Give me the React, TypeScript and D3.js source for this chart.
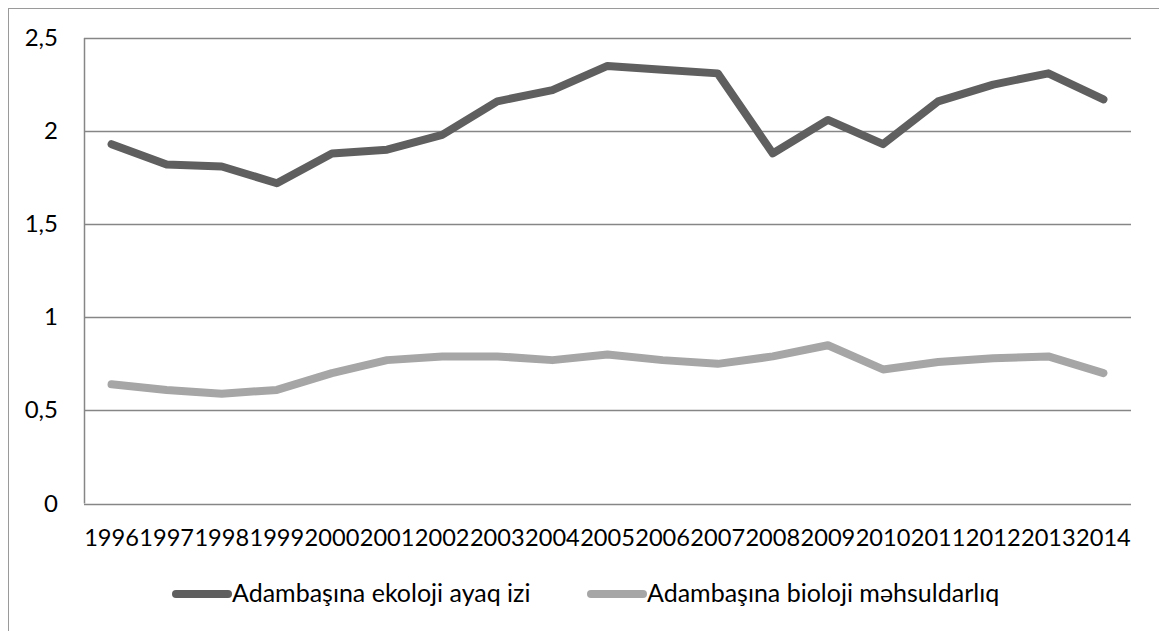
import React, { useEffect, useRef } from 'react';
import * as d3 from 'd3';

const years = ['1996', '1997', '1998', '1999', '2000', '2001', '2002', '2003', '2004', '2005',
  '2006', '2007', '2008', '2009', '2010', '2011', '2012', '2013', '2014'];
const ecoFootprint = [1.93, 1.82, 1.81, 1.72, 1.88, 1.90, 1.98, 2.16, 2.22, 2.35,
  2.33, 2.31, 1.88, 2.06, 1.93, 2.16, 2.25, 2.31, 2.17];
const bioCapacity = [0.64, 0.61, 0.59, 0.61, 0.70, 0.77, 0.79, 0.79, 0.77, 0.80,
  0.77, 0.75, 0.79, 0.85, 0.72, 0.76, 0.78, 0.79, 0.70];
const yTicks = [0, 0.5, 1, 1.5, 2, 2.5];
const seriesNames = ['Adambaşına ekoloji ayaq izi', 'Adambaşına bioloji məhsuldarlıq'];

const W = 1159, H = 631;
const FONT = 'Lato, Calibri, sans-serif';

function App() {
  const ref = useRef<SVGSVGElement>(null);

  useEffect(() => {
    const svg = d3.select(ref.current);
    svg.selectAll('*').remove();

    const margin = { top: 38, right: 28, bottom: 128, left: 84 };
    const x = d3.scaleBand()
      .domain(years)
      .range([margin.left, W - margin.right]);
    const y = d3.scaleLinear()
      .domain([0, 2.5])
      .range([H - margin.bottom + 0.5, margin.top]);

    // outer frame
    svg.append('rect')
      .attr('x', 8.5).attr('y', 8.5)
      .attr('width', 1300).attr('height', 800)
      .attr('fill', 'none')
      .attr('stroke', '#9a9a9a')
      .attr('stroke-width', 1);

    // gridlines
    svg.append('g')
      .selectAll('line')
      .data(yTicks)
      .join('line')
      .attr('x1', margin.left).attr('x2', W - margin.right)
      .attr('y1', d => Math.round(y(d)) + 0.5)
      .attr('y2', d => Math.round(y(d)) + 0.5)
      .attr('stroke', '#868686')
      .attr('stroke-width', 1.5);

    // vertical axis line
    svg.append('line')
      .attr('x1', margin.left + 0.5).attr('x2', margin.left + 0.5)
      .attr('y1', y(2.5)).attr('y2', y(0))
      .attr('stroke', '#868686')
      .attr('stroke-width', 1.5);

    // y labels
    svg.append('g')
      .selectAll('text')
      .data(yTicks)
      .join('text')
      .attr('x', 58)
      .attr('y', d => y(d) + 8)
      .attr('text-anchor', 'end')
      .attr('font-family', FONT)
      .attr('font-size', 24)
      .attr('fill', '#000')
      .text(d => d3.format('')(d).replace('.', ','));

    // x labels
    svg.append('g')
      .selectAll('text')
      .data(years)
      .join('text')
      .attr('x', d => x(d)! + x.bandwidth() / 2)
      .attr('y', 546)
      .attr('text-anchor', 'middle')
      .attr('font-family', FONT)
      .attr('font-size', 23.6)
      .attr('fill', '#000')
      .text(d => d);

    const line = d3.line<number>()
      .x((d, i) => x(years[i])! + x.bandwidth() / 2)
      .y(d => y(d));

    const series = [
      { values: ecoFootprint, color: '#5f5f5f' },
      { values: bioCapacity, color: '#a6a6a6' },
    ];

    svg.append('g')
      .selectAll('path')
      .data(series)
      .join('path')
      .attr('d', d => line(d.values))
      .attr('fill', 'none')
      .attr('stroke', d => d.color)
      .attr('stroke-width', 8)
      .attr('stroke-linecap', 'round')
      .attr('stroke-linejoin', 'round');

    // legend
    const legendX = [176, 591];
    const legend = svg.append('g')
      .selectAll('g')
      .data(series)
      .join('g')
      .attr('transform', (d, i) => `translate(${legendX[i]},594)`);
    legend.append('line')
      .attr('x1', 0).attr('x2', 52)
      .attr('y1', 0).attr('y2', 0)
      .attr('stroke', d => d.color)
      .attr('stroke-width', 8)
      .attr('stroke-linecap', 'round');
    legend.append('text')
      .attr('x', 56)
      .attr('y', 8)
      .attr('font-family', FONT)
      .attr('font-size', 25)
      .attr('fill', '#000')
      .text((d, i) => seriesNames[i]);
  }, []);

  return (
    <svg ref={ref} width={W} height={H}
      style={{ position: 'fixed', left: 0, top: 0, background: '#fff' }} />
  );
}

export default App;
